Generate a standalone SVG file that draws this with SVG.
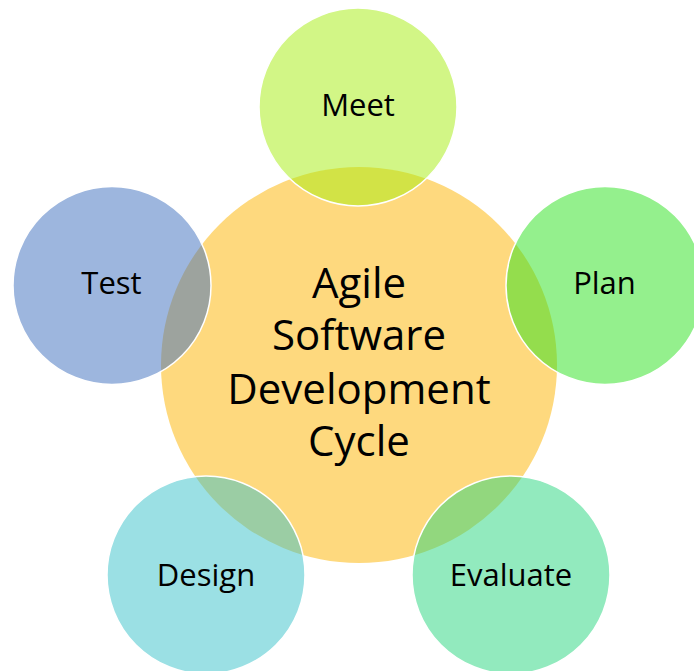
<svg xmlns="http://www.w3.org/2000/svg" width="694" height="671" viewBox="0 0 694 671">
<style>
.sat{fill-opacity:0.5;stroke:#ffffff;stroke-width:1.5}
.lbl{font-family:"Open Sans","Noto Sans",sans-serif;font-size:31px;fill:#000000;text-anchor:middle}
.ctr{font-family:"Open Sans","Noto Sans",sans-serif;font-size:42px;fill:#000000;text-anchor:middle}
</style>
<rect width="694" height="671" fill="#ffffff"/>
<g id="center">
<circle cx="359" cy="365" r="198" fill="#fed97e"/>
<text class="ctr" x="359" y="298">Agile</text>
<text class="ctr" x="359" y="350">Software</text>
<text class="ctr" x="359" y="404">Development</text>
<text class="ctr" x="359" y="456">Cycle</text>
</g>
<g id="meet">
<circle class="sat" cx="358" cy="107" r="99" fill="#a5ed0d"/>
<text class="lbl" x="358" y="116">Meet</text>
</g>
<g id="plan">
<circle class="sat" cx="605" cy="285.5" r="99" fill="#29e11b"/>
<text class="lbl" x="604.5" y="294">Plan</text>
</g>
<g id="evaluate">
<circle class="sat" cx="511" cy="575" r="99" fill="#25d57d"/>
<text class="lbl" x="511" y="586">Evaluate</text>
</g>
<g id="design">
<circle class="sat" cx="206" cy="575" r="99" fill="#37c1c9"/>
<text class="lbl" x="206" y="586">Design</text>
</g>
<g id="test">
<circle class="sat" cx="112" cy="285.5" r="99" fill="#3b6dbd"/>
<text class="lbl" x="111.5" y="294">Test</text>
</g>
<g id="connectors"></g>
</svg>
